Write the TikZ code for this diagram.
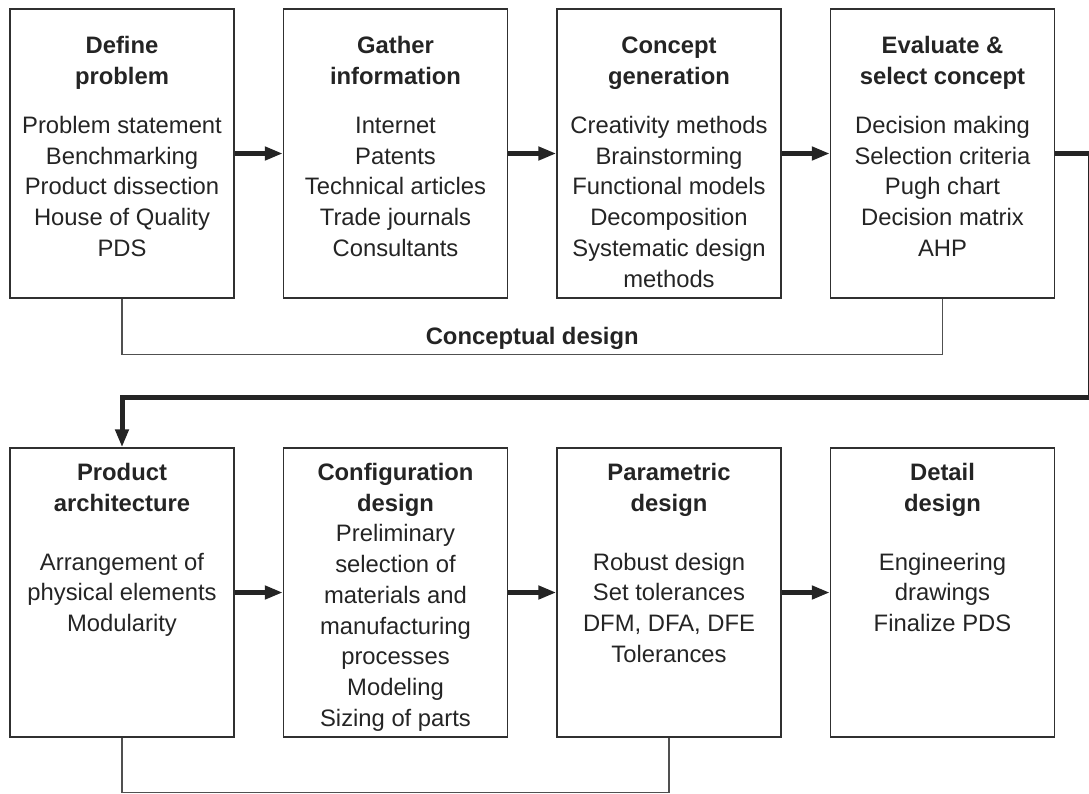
\documentclass[tikz,border=0pt]{standalone}
\usepackage{fontspec}
\setmainfont{Liberation Sans}
\usetikzlibrary{arrows.meta}
\definecolor{ink}{HTML}{242424}
\definecolor{frame}{HTML}{303030}
\definecolor{rule}{HTML}{505050}
% one centred block of lines, its reference point on the first baseline
\newcommand{\lineblock}[1]{\begin{tabular}[t]{@{}c@{}}#1\end{tabular}}
\begin{document}
\begin{tikzpicture}[x=1pt,y=-1pt,
  stage/.style={draw=frame,line width=1.4pt,minimum width=224pt,minimum height=289pt,inner sep=0pt},
  txt/.style={anchor=base,inner sep=0pt,text=ink,font=\fontsize{23.8}{30.7}\selectfont},
  flow/.style={draw=ink,line width=5pt,-{Triangle[length=18pt,width=13pt]}},
  bracket/.style={draw=rule,line width=1.3pt}]
\useasboundingbox (0,0) rectangle (1089,793);

% stages of the design process
\node[stage] (b1) at (122,153.5) {};
\node[stage] (b2) at (395.5,153.5) {};
\node[stage] (b3) at (669,153.5) {};
\node[stage] (b4) at (942.5,153.5) {};
\node[stage] (b5) at (122,592.5) {};
\node[stage] (b6) at (395.5,592.5) {};
\node[stage] (b7) at (669,592.5) {};
\node[stage] (b8) at (942.5,592.5) {};

% contents of the stages
\node[txt] (t1) at (122,53.5) {\lineblock{\textbf{Define}\\\textbf{problem}\\[18.6pt]
  Problem statement\\Benchmarking\\Product dissection\\House of Quality\\PDS}};
\node[txt] (t2) at (395.5,53.5) {\lineblock{\textbf{Gather}\\\textbf{information}\\[18.6pt]
  Internet\\Patents\\Technical articles\\Trade journals\\Consultants}};
\node[txt] (t3) at (669,53.5) {\lineblock{\textbf{Concept}\\\textbf{generation}\\[18.6pt]
  Creativity methods\\Brainstorming\\Functional models\\Decomposition\\Systematic design\\methods}};
\node[txt] (t4) at (942.5,53.5) {\lineblock{\textbf{Evaluate \&}\\\textbf{select concept}\\[18.6pt]
  Decision making\\Selection criteria\\Pugh chart\\Decision matrix\\AHP}};
\node[txt] (t5) at (122,480.5) {\lineblock{\textbf{Product}\\\textbf{architecture}\\[28.3pt]
  Arrangement of\\physical elements\\Modularity}};
\node[txt] (t6) at (395.5,480.5) {\lineblock{\textbf{Configuration}\\\textbf{design}\\
  Preliminary\\selection of\\materials and\\manufacturing\\processes\\Modeling\\Sizing of parts}};
\node[txt] (t7) at (669,480.5) {\lineblock{\textbf{Parametric}\\\textbf{design}\\[28.3pt]
  Robust design\\Set tolerances\\DFM, DFA, DFE\\Tolerances}};
\node[txt] (t8) at (942.5,480.5) {\lineblock{\textbf{Detail}\\\textbf{design}\\[28.3pt]
  Engineering\\drawings\\Finalize PDS}};

% main flow
\draw[flow] (b1) -- (b2);
\draw[flow] (b2) -- (b3);
\draw[flow] (b3) -- (b4);
\coordinate (edge) at (1090.5,397);
\draw[flow] (b4.east) -| (edge) -| (b5.north);
\draw[flow] (b5) -- (b6);
\draw[flow] (b6) -- (b7);
\draw[flow] (b7) -- (b8);

% phase brackets
\draw[bracket] (b1.south) -- ++(0,56) -| node[txt,pos=0.25,yshift=10.5pt] (cd) {\textbf{Conceptual design}} (b4.south);
\draw[bracket] (b5.south) -- ++(0,54.5) -| (b7.south);
\end{tikzpicture}
\end{document}
